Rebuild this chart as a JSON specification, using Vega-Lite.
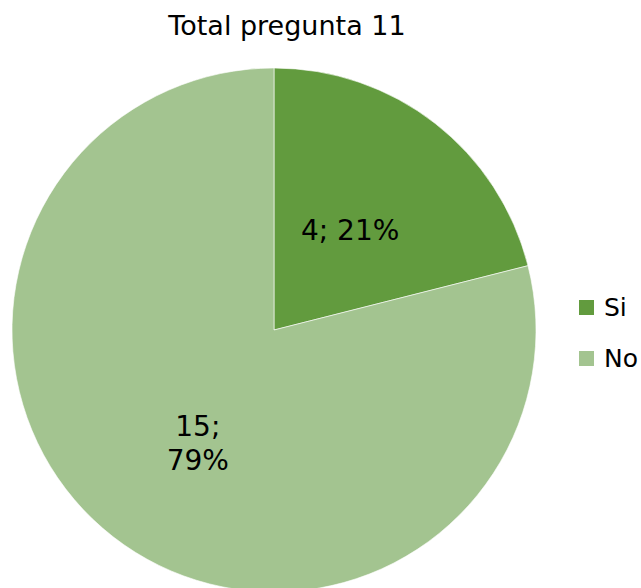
{
  "$schema": "https://vega.github.io/schema/vega-lite/v6.json",
  "autosize": "none",
  "padding": {"left": 0, "top": 0, "right": 93, "bottom": 0},
  "width": 548,
  "height": 588,
  "background": "white",
  "title": {
    "text": "Total pregunta 11",
    "font": "DejaVu Sans",
    "fontSize": 27,
    "fontWeight": "normal",
    "color": "#000000",
    "anchor": "middle",
    "baseline": "alphabetic",
    "offset": -62,
    "dx": 13
  },
  "data": {
    "values": [
      {"respuesta": "Si", "cantidad": 4, "orden": 1, "etiqueta": "4; 21%"},
      {"respuesta": "No", "cantidad": 15, "orden": 2, "etiqueta": "15;\n79%"}
    ]
  },
  "encoding": {
    "theta": {"field": "cantidad", "type": "quantitative", "stack": true},
    "order": {"field": "orden", "type": "quantitative"}
  },
  "layer": [
    {
      "mark": {"type": "arc", "outerRadius": 262, "yOffset": 36, "stroke": "#ffffff", "strokeWidth": 0.6},
      "encoding": {
        "color": {
          "field": "respuesta",
          "type": "nominal",
          "scale": {"domain": ["Si", "No"], "range": ["#629B3E", "#A3C490"]},
          "legend": {
            "title": null,
            "orient": "none",
            "legendX": 574,
            "legendY": 295,
            "padding": 0,
            "symbolType": "square",
            "symbolSize": 225,
            "symbolStrokeWidth": 0,
            "labelFont": "DejaVu Sans",
            "labelFontSize": 25,
            "labelColor": "#000000",
            "labelOffset": 5,
            "rowPadding": 25,
            "symbolOpacity": 1
          }
        }
      }
    },
    {
      "mark": {"type": "text", "radius": 124, "yOffset": 36, "font": "DejaVu Sans", "fontSize": 28, "color": "#000000", "lineBreak": "\n", "lineHeight": 34},
      "encoding": {
        "text": {"field": "etiqueta"}
      }
    }
  ]
}
